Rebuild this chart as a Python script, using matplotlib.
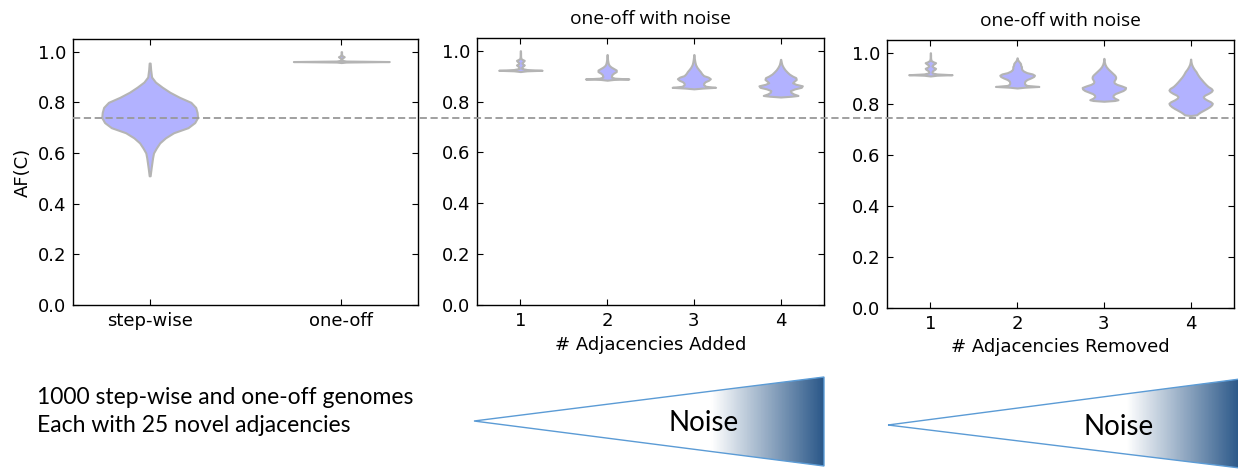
import numpy as np
import matplotlib.pyplot as plt
from matplotlib.patches import Polygon
from matplotlib.lines import Line2D
from matplotlib.colors import LinearSegmentedColormap

plt.rcParams['font.family'] = ['DejaVu Sans']

# violin profiles: AF(C) values and relative density width
stepwise_y = [0.51, 0.54, 0.58, 0.60, 0.62, 0.64, 0.66, 0.68, 0.70, 0.72, 0.74,
              0.76, 0.78, 0.80, 0.82, 0.84, 0.86, 0.88, 0.90, 0.93, 0.955]
stepwise_w = [0.01, 0.03, 0.06, 0.08, 0.14, 0.21, 0.33, 0.50, 0.80, 0.94, 1.0,
              0.99, 0.96, 0.86, 0.62, 0.42, 0.26, 0.12, 0.04, 0.02, 0.01]
oneoff_y = [0.957, 0.959, 0.961, 0.963, 0.966, 0.972, 0.976, 0.98, 0.984, 0.99, 1.0]
oneoff_w = [0.0, 0.1, 1.0, 0.1, 0.01, 0.01, 0.03, 0.06, 0.02, 0.005, 0.005]

# added adjacencies 1..4
add1_y = [0.918, 0.921, 0.923, 0.926, 0.93, 0.935, 0.94, 0.944, 0.949, 0.953, 0.958,
          0.962, 0.966, 0.97, 0.98, 0.99, 1.0]
add1_w = [0.0, 0.3, 1.0, 0.3, 0.06, 0.06, 0.12, 0.18, 0.08, 0.07, 0.14,
          0.18, 0.08, 0.02, 0.01, 0.01, 0.005]
add2_y = [0.884, 0.887, 0.889, 0.892, 0.896, 0.90, 0.906, 0.912, 0.918, 0.924, 0.93,
          0.936, 0.942, 0.948, 0.955, 0.965, 0.975, 0.985]
add2_w = [0.0, 0.3, 1.0, 0.35, 0.2, 0.2, 0.22, 0.3, 0.42, 0.42, 0.3,
          0.18, 0.1, 0.06, 0.04, 0.02, 0.01, 0.005]
add3_y = [0.850, 0.853, 0.856, 0.86, 0.866, 0.872, 0.878, 0.884, 0.89, 0.896, 0.902,
          0.91, 0.918, 0.926, 0.935, 0.945, 0.955, 0.965, 0.975, 0.985]
add3_w = [0.0, 0.4, 1.0, 0.55, 0.45, 0.45, 0.52, 0.68, 0.76, 0.66, 0.45,
          0.36, 0.3, 0.22, 0.14, 0.08, 0.05, 0.03, 0.015, 0.005]
add4_y = [0.818, 0.821, 0.824, 0.83, 0.836, 0.843, 0.85, 0.856, 0.862, 0.868, 0.874,
          0.88, 0.887, 0.894, 0.90, 0.908, 0.916, 0.925, 0.935, 0.945, 0.955, 0.966]
add4_w = [0.0, 0.5, 0.8, 0.6, 0.48, 0.45, 0.65, 0.95, 1.0, 0.7, 0.55,
          0.62, 0.72, 0.7, 0.55, 0.4, 0.3, 0.2, 0.12, 0.06, 0.03, 0.005]

# removed adjacencies 1..4
rem1_y = [0.909, 0.912, 0.914, 0.917, 0.921, 0.926, 0.931, 0.935, 0.939, 0.943, 0.948,
          0.952, 0.957, 0.961, 0.965, 0.97, 0.98, 0.99, 1.0]
rem1_w = [0.0, 0.3, 1.0, 0.3, 0.08, 0.07, 0.12, 0.2, 0.24, 0.14, 0.07,
          0.09, 0.18, 0.24, 0.12, 0.03, 0.01, 0.01, 0.005]
rem2_y = [0.862, 0.865, 0.868, 0.872, 0.877, 0.883, 0.889, 0.895, 0.901, 0.907, 0.912,
          0.917, 0.922, 0.928, 0.934, 0.94, 0.946, 0.952, 0.957, 0.962, 0.968, 0.974, 0.98]
rem2_w = [0.0, 0.35, 1.0, 0.45, 0.35, 0.34, 0.36, 0.45, 0.62, 0.76, 0.8,
          0.7, 0.45, 0.3, 0.22, 0.2, 0.2, 0.16, 0.16, 0.12, 0.06, 0.02, 0.005]
rem3_y = [0.81, 0.813, 0.816, 0.822, 0.828, 0.834, 0.84, 0.846, 0.852, 0.858, 0.864,
          0.87, 0.876, 0.882, 0.888, 0.894, 0.90, 0.906, 0.912, 0.92, 0.928, 0.936,
          0.945, 0.955, 0.965, 0.978]
rem3_w = [0.0, 0.5, 0.65, 0.5, 0.42, 0.43, 0.52, 0.7, 0.88, 0.98, 1.0,
          0.82, 0.6, 0.48, 0.46, 0.5, 0.54, 0.54, 0.5, 0.4, 0.3, 0.2,
          0.11, 0.05, 0.02, 0.005]
rem4_y = [0.754, 0.757, 0.762, 0.768, 0.775, 0.782, 0.789, 0.796, 0.802, 0.808, 0.815,
          0.822, 0.828, 0.834, 0.841, 0.848, 0.854, 0.86, 0.868, 0.876, 0.885, 0.895,
          0.905, 0.915, 0.926, 0.936, 0.946, 0.956, 0.966, 0.975]
rem4_w = [0.0, 0.28, 0.35, 0.45, 0.6, 0.75, 0.88, 0.97, 1.0, 0.92, 0.75,
          0.62, 0.58, 0.65, 0.82, 0.95, 1.0, 0.95, 0.8, 0.7, 0.6, 0.5,
          0.4, 0.32, 0.25, 0.16, 0.09, 0.04, 0.015, 0.005]

baseline = 0.74
labels1 = ["step-wise", "one-off"]
noise_levels = [1, 2, 3, 4]
caption = ["1000 step-wise and one-off genomes", "Each with 25 novel adjacencies"]


def make_stats(ys, ws):
    ys = np.asarray(ys, float)
    ws = np.asarray(ws, float)
    peak = ys[np.argmax(ws)]
    return dict(coords=ys, vals=ws, mean=peak, median=peak, min=ys[0], max=ys[-1])


def draw_violins(ax, profiles, positions):
    stats = [make_stats(y, w) for y, w in profiles]
    parts = ax.violin(stats, positions=positions, widths=0.5, showextrema=False)
    for body in parts['bodies']:
        body.set_alpha(1.0)
        body.set_facecolor('#b2b2ff')
        body.set_edgecolor('#b4b4b4')
        body.set_linewidth(1.5)


def style_axes(ax):
    ax.set_ylim(0, 1.05)
    ax.set_yticks([0.0, 0.2, 0.4, 0.6, 0.8, 1.0])
    ax.tick_params(direction='in', length=4, top=True, right=True, labelsize=13, pad=5)
    for s in ax.spines.values():
        s.set_linewidth(1.0)


W, H = 1238, 471
fig = plt.figure(figsize=(W / 100, H / 100), dpi=100)

ax1 = fig.add_axes([73 / W, 1 - 305 / H, 345 / W, 266 / H])
ax2 = fig.add_axes([477 / W, 1 - 305 / H, 347 / W, 267 / H])
ax3 = fig.add_axes([887 / W, 1 - 308 / H, 347 / W, 268 / H])

draw_violins(ax1, [(stepwise_y, stepwise_w), (oneoff_y, oneoff_w)], [1, 2])
ax1.set_xlim(0.6, 2.4)
ax1.set_xticks([1, 2])
ax1.set_xticklabels(labels1)
ax1.set_ylabel("AF(C)", fontsize=13)
style_axes(ax1)

draw_violins(ax2, [(add1_y, add1_w), (add2_y, add2_w), (add3_y, add3_w), (add4_y, add4_w)],
             noise_levels)
ax2.set_xlim(0.5, 4.5)
ax2.set_xticks(noise_levels)
ax2.set_xlabel("# Adjacencies Added", fontsize=13)
ax2.set_title("one-off with noise", fontsize=13.8, family='Open Sans', pad=10)
style_axes(ax2)

draw_violins(ax3, [(rem1_y, rem1_w), (rem2_y, rem2_w), (rem3_y, rem3_w), (rem4_y, rem4_w)],
             noise_levels)
ax3.set_xlim(0.5, 4.5)
ax3.set_xticks(noise_levels)
ax3.set_xlabel("# Adjacencies Removed", fontsize=13)
ax3.set_title("one-off with noise", fontsize=13.8, family='Open Sans', pad=10)
style_axes(ax3)

# dashed reference line running across all panels
p1 = ax1.get_position()
p3 = ax3.get_position()
yline = p1.y0 + baseline / 1.05 * p1.height
fig.add_artist(Line2D([p1.x0, p3.x1], [yline, yline], transform=fig.transFigure,
                      color='#999999', lw=1.3, dashes=(4, 2), zorder=5))

# overlay in pixel coords for caption and the noise wedges
ov = fig.add_axes([0, 0, 1, 1], zorder=-1)
ov.set_xlim(0, W)
ov.set_ylim(H, 0)
ov.axis('off')

ov.text(37, 398, caption[0], fontsize=16.5, family='Lato', va='center', ha='left')
ov.text(37, 426, caption[1], fontsize=16.5, family='Lato', va='center', ha='left')

cmap = LinearSegmentedColormap.from_list('wedge', ['#ffffff', '#ffffff', '#2b5889'])
wedges = [((474, 421), (824, 377), (824, 466), 600),
          ((888, 425), (1240, 379), (1240, 468), 1015)]
for tip, top, bot, fade in wedges:
    tri = Polygon([tip, top, bot], closed=True, facecolor='none',
                  edgecolor='#5b9bd5', lw=1.0)
    ov.add_patch(tri)
    grad = np.clip((np.linspace(tip[0], top[0], 300) - fade) / (top[0] - fade), 0, 1)
    im = ov.imshow(grad[None, :], cmap=cmap, vmin=0, vmax=1, aspect='auto',
                   extent=(tip[0], top[0], bot[1], top[1]), interpolation='bilinear')
    im.set_clip_path(tri)
    ov.text((tip[0] + top[0]) / 2 + 55, tip[1] + 2, "Noise", fontsize=20, family='Lato',
            ha='center', va='center')

ov.set_xlim(0, W)
ov.set_ylim(H, 0)

fig.savefig("out.png", dpi=100)
